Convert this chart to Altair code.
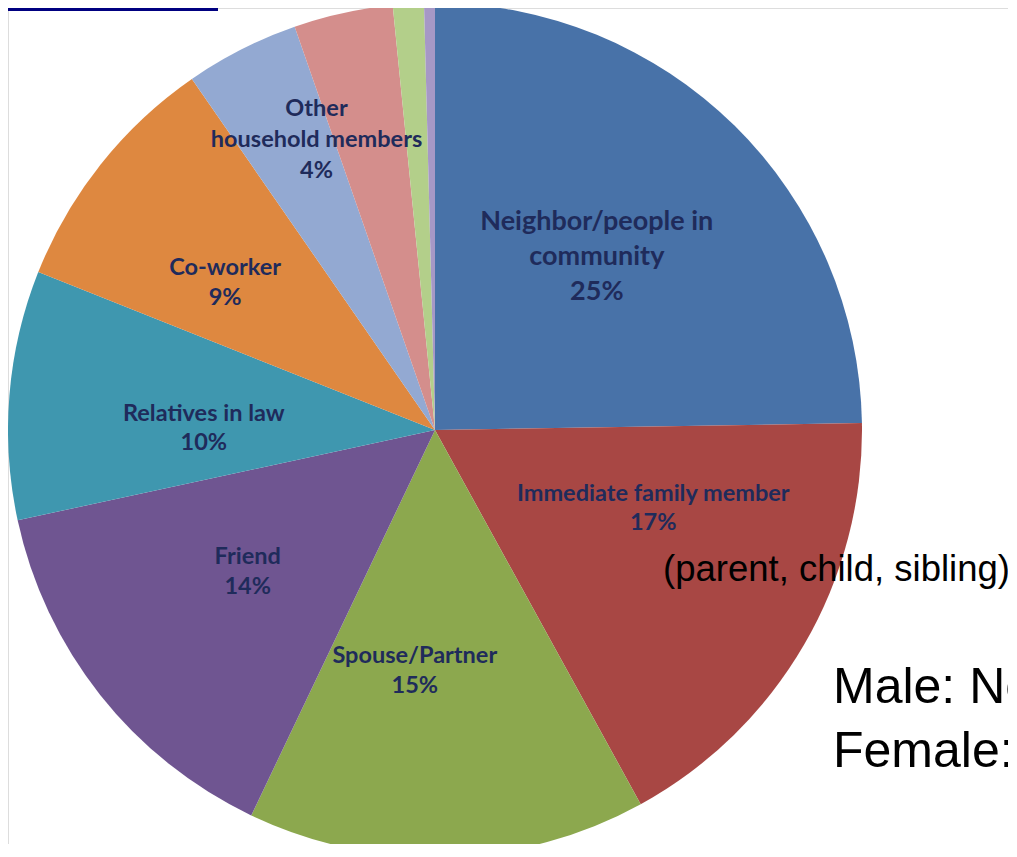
import altair as alt
import pandas as pd

# ---- data ----
categories = [
    "Neighbor/people in community",
    "Immediate family member",
    "Spouse/Partner",
    "Friend",
    "Relatives in law",
    "Co-worker",
    "Other household members",
    "Unlabeled A",
    "Unlabeled B",
    "Unlabeled C",
]
values = [24.74, 17.26, 15.08, 14.53, 9.42, 9.33, 4.31, 3.75, 1.17, 0.41]
pct_labels = ["25%", "17%", "15%", "14%", "10%", "9%", "4%", "", "", ""]
name_lines = [
    ["Neighbor/people in", "community"],
    ["Immediate family  member"],
    ["Spouse/Partner"],
    ["Friend"],
    ["Relatives in law"],
    ["Co-worker"],
    ["Other", "household members"],
    [],
    [],
    [],
]
note_text = "(parent, child, sibling)"
side_lines = ["Male: Neighbor", "Female: Spouse"]

# ---- styling / layout (not data) ----
colors = ["#4872A8", "#A84744", "#8CA84E", "#6F5591", "#3F97AF",
          "#DE8840", "#93A9D2", "#D48E8C", "#B3CF8A", "#A698C6"]
W, H = 1000, 836
CX, CY, R = 427, 422, 427
LABEL_R = 235
# per-label nudges (dx, dy, lineHeight, fontSize)
label_style = {
    0: (-3, -40, 35, 27),
    1: (15, -54, 29, 23.5),
    2: (-27, -9, 30, 23.5),
    3: (-3, -19, 30, 23.5),
    4: (3, 3, 29, 23.5),
    5: (-26, -16, 30, 23.5),
    6: (-12, -112, 31, 23.5),
}

df = pd.DataFrame({
    "idx": list(range(len(categories))),
    "cat": categories,
    "value": values,
    "text": ["\n".join(n + [p]) if p else "" for n, p in zip(name_lines, pct_labels)],
})

base = alt.Chart(df)

arcs = base.mark_arc(outerRadius=R).encode(
    x=alt.value(CX),
    y=alt.value(CY),
    theta=alt.Theta("value:Q", stack=True),
    order=alt.Order("idx:Q", sort="ascending"),
    color=alt.Color("cat:N", scale=alt.Scale(domain=categories, range=colors), legend=None),
)

layers = [arcs]
for i, (dx, dy, lh, fs) in label_style.items():
    t = base.transform_calculate(
        t=f"datum.idx == {i} ? datum.text : ''"
    ).mark_text(
        radius=LABEL_R, dx=dx, dy=dy, align="center", baseline="middle",
        font="Lato", fontWeight="bold", fontSize=fs, color="#1F2B5B",
        lineBreak="\n", lineHeight=lh,
    ).encode(
        x=alt.value(CX),
        y=alt.value(CY),
        theta=alt.Theta("value:Q", stack=True),
        order=alt.Order("idx:Q", sort="ascending"),
        text="t:N",
    )
    layers.append(t)

note = alt.Chart(pd.DataFrame({"t": [note_text]})).mark_text(
    align="left", baseline="alphabetic", font="Liberation Sans", fontSize=36.5, color="#000000"
).encode(x=alt.value(655), y=alt.value(573), text="t:N")

side_df = pd.DataFrame({"t": side_lines})
side_male = alt.Chart(side_df).transform_filter(alt.datum.t == side_lines[0]).mark_text(
    align="left", baseline="alphabetic", font="Liberation Sans", fontSize=50, color="#000000"
).encode(x=alt.value(825), y=alt.value(695), text="t:N")
side_female = alt.Chart(side_df).transform_filter(alt.datum.t == side_lines[1]).mark_text(
    align="left", baseline="alphabetic", font="Liberation Sans", fontSize=50, color="#000000"
).encode(x=alt.value(825), y=alt.value(759), text="t:N")

bar = alt.Chart(pd.DataFrame({"a": [0]})).mark_rect(color="#000080").encode(
    x=alt.value(0), x2=alt.value(210), y=alt.value(0), y2=alt.value(3)
)

chart = alt.layer(*layers, note, side_male, side_female, bar).properties(
    width=W, height=H, padding=0, autosize="none"
).configure_view(stroke="transparent", strokeWidth=0).configure(background="#FFFFFF")

chart.save("out.html", embed_options={"renderer": "svg", "actions": False})
